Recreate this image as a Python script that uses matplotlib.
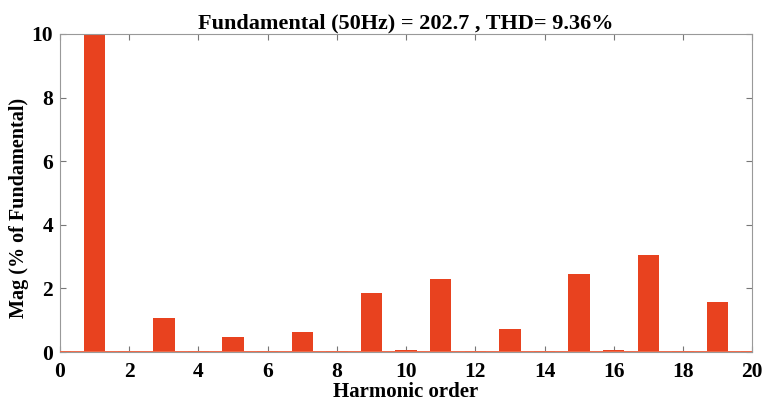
import numpy as np
import matplotlib.pyplot as plt

# harmonic spectrum, % of fundamental (fundamental clipped by the axis at 10)
orders = np.arange(0, 21)
mag = [0.02, 100.0, 0.02, 1.08, 0.05, 0.47, 0.03, 0.64, 0.05, 1.85, 0.06,
       2.29, 0.03, 0.73, 0.04, 2.45, 0.06, 3.06, 0.03, 1.58, 0.03]

fund = 202.7
thd = 9.36

plt.rcParams['font.family'] = ['Liberation Serif', 'DejaVu Serif']
plt.rcParams['font.weight'] = 'bold'

fig = plt.figure(figsize=(7.64, 4.08), dpi=100)
ax = fig.add_axes([0.0785, 0.137, 0.906, 0.78])

ax.bar(orders, mag, width=0.62, color='#e8421f', zorder=2)
ax.axhline(0, color='#f06a4a', linewidth=1.4, zorder=3)

ax.set_xlim(0, 20)
ax.set_ylim(0, 10)
ax.set_xticks(np.arange(0, 21, 2))
ax.set_yticks(np.arange(0, 11, 2))
ax.tick_params(direction='in', top=True, right=True, length=4,
               color='#777777', labelsize=15.5)
ax.tick_params(axis='x', pad=7)
ax.tick_params(axis='y', pad=5)
for s in ax.spines.values():
    s.set_color('#999999')
    s.set_linewidth(0.8)

ax.set_title('Fundamental (50Hz) = %.1f , THD= %.2f%%' % (fund, thd),
             fontsize=16, fontweight='bold', pad=4)
ax.set_xlabel('Harmonic order', fontsize=15, fontweight='bold')
ax.set_ylabel('Mag (% of Fundamental)', fontsize=14.5, fontweight='bold')
ax.xaxis.set_label_coords(0.5, -0.095)
ax.yaxis.set_label_coords(-0.045, 0.453)

fig.savefig('out.png', dpi=100)
